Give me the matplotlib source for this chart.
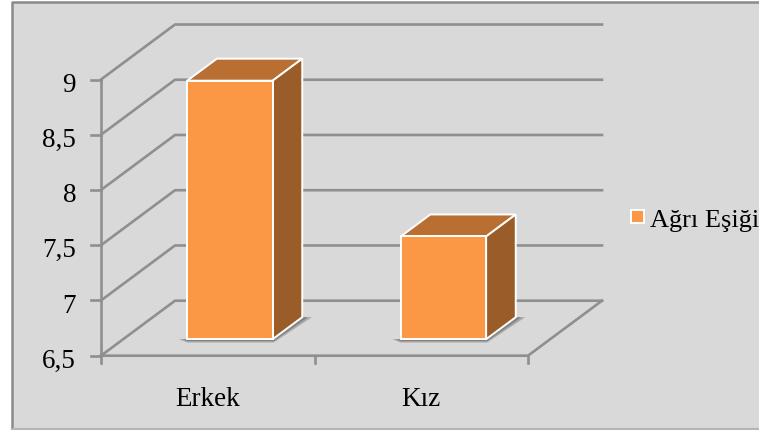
import matplotlib
matplotlib.use("Agg")
import matplotlib.pyplot as plt
from matplotlib.patches import Polygon, Rectangle

plt.rcParams["font.family"] = ["Liberation Serif", "DejaVu Serif"]

# =========================
# DATA
# =========================
categories = ["Erkek", "Kız"]
values = [8.84, 7.43]
y_ticks = [6.5, 7, 7.5, 8, 8.5, 9]
y_labels = ["6,5", "7", "7,5", "8", "8,5", "9"]
series_name = "Ağrı Eşiği"

W, H = 759, 431
BG = "#d9d9d9"
GRID = "#8f8f8f"
FRONT = "#fb9846"
TOP = "#b96f32"
SIDE = "#9a5d2a"

fig = plt.figure(figsize=(W / 100, H / 100), dpi=100, facecolor="white")

# whole figure in pixels for the frame
bg = fig.add_axes([0, 0, 1, 1])
bg.set_xlim(0, W)
bg.set_ylim(H, 0)
bg.axis("off")
bg.add_patch(Rectangle((11.7, 3), W, 427, fc=BG, ec="none"))
bg.plot([11.7, 11.7, W], [430, 3, 3], color="#8a8a8a", lw=1.8)
bg.plot([11.7, W], [430, 430], color="#b5b5b5", lw=1.6)

# plot axes, x = category units, y = values
x0, x1, y_top, y_bot = 101, 528, 80.5, 356.7
ax = fig.add_axes([x0 / W, 1 - y_bot / H, (x1 - x0) / W, (y_bot - y_top) / H])
ax.set_xlim(0, len(categories))
ax.set_ylim(6.5, 9)
ax.patch.set_visible(False)
ax.axis("off")

# depth of the fake 3d box, one full depth in data units
dx = 74 / ((x1 - x0) / len(categories))
dy = 55 / ((y_bot - y_top) / 2.5)
bar_w = 0.4
d_front = 0.30
d_back = 0.70


def pt(x, y, d):
    return (x + d * dx, y + d * dy)


# =========================
# GRID / WALLS
# =========================
lw = 1.9
n = len(categories)
for t in y_ticks:
    ax.plot([0, dx, n + dx], [t, t + dy, t + dy], color=GRID, lw=lw, clip_on=False, zorder=1)

# front floor edge, right floor edge, value axis
ax.plot([0, n, n + dx], [6.5, 6.5, 6.5 + dy], color=GRID, lw=lw, clip_on=False, zorder=1)
ax.plot([0, 0], [6.5, 9], color=GRID, lw=lw, clip_on=False, zorder=1)

# ticks and labels
for t, lab in zip(y_ticks, y_labels):
    ax.plot([-0.045, 0], [t, t], color=GRID, lw=lw, clip_on=False, zorder=1)
    ax.text(-0.117, t - 0.1, lab, ha="right", va="baseline", fontsize=19.5, color="black", clip_on=False)
for i in range(n + 1):
    ax.plot([i, i], [6.5, 6.43], color=GRID, lw=lw, clip_on=False, zorder=1)
for i, c in enumerate(categories):
    ax.text(i + 0.5, 6.054, c, ha="center", va="baseline", fontsize=19.5, color="black", clip_on=False)

# =========================
# BARS
# =========================
for i, v in enumerate(values):
    l = i + 0.5 - bar_w / 2
    r = i + 0.5 + bar_w / 2
    # soft shadow on the floor
    for grow, alpha in [(1.0, 0.45), (0.6, 0.65)]:
        shadow = [pt(l - 0.04 * grow, 6.5, d_front), pt(l, 6.5 - 0.03 * grow, d_front),
                  pt(r + 0.005, 6.5 - 0.03 * grow, d_front),
                  pt(r + 0.045 * grow, 6.5, d_back), pt(r, 6.5, d_back), pt(r, 6.5, d_front)]
        ax.add_patch(Polygon(shadow, fc="#6f6f6f", ec="none", alpha=alpha, zorder=2, clip_on=False))
    ax.add_patch(Polygon([pt(l, v, d_front), pt(r, v, d_front), pt(r, v, d_back), pt(l, v, d_back)],
                         fc=TOP, ec="white", lw=1.4, joinstyle="miter", zorder=3, clip_on=False))
    ax.add_patch(Polygon([pt(r, 6.5, d_front), pt(r, 6.5, d_back), pt(r, v, d_back), pt(r, v, d_front)],
                         fc=SIDE, ec="white", lw=1.4, joinstyle="miter", zorder=3, clip_on=False))
    ax.add_patch(Polygon([pt(l, 6.5, d_front), pt(r, 6.5, d_front), pt(r, v, d_front), pt(l, v, d_front)],
                         fc=FRONT, ec="white", lw=1.4, joinstyle="miter", zorder=4, clip_on=False))

# =========================
# LEGEND
# =========================
bg.add_patch(Rectangle((630.7, 210.7), 13, 13.3, fc=FRONT, ec="white", lw=1.4, zorder=5))
bg.text(650, 227.3, series_name, ha="left", va="baseline", fontsize=19, color="black", zorder=5, clip_on=False)

fig.savefig("out.png", dpi=100, facecolor="white")
